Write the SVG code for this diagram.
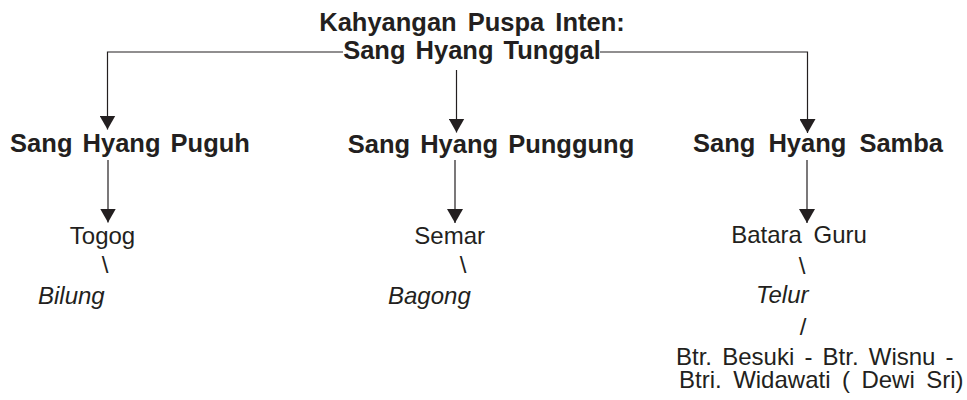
<svg xmlns="http://www.w3.org/2000/svg" width="967" height="400" viewBox="0 0 967 400">
<style>
  text { font-family: "Liberation Sans", Arial, sans-serif; font-size: 24px; fill: #231f20; }
  .b { font-weight: bold; font-size: 25.5px; word-spacing: 3px; }
  .r { word-spacing: 5px; }
  .i { font-style: italic; }
  .c { text-anchor: middle; }
  .ln { fill: none; stroke: #231f20; stroke-width: 1.2; }
</style>
<defs>
  <marker id="ah" markerUnits="userSpaceOnUse" viewBox="0 0 14 16" markerWidth="14" markerHeight="16" refX="14" refY="8" orient="auto">
    <path d="M0,0 L14,8 L0,16 z" fill="#231f20"/>
  </marker>
</defs>
<g id="connectors">
  <polyline class="ln" points="343,52 107.5,52 107.5,129.5" marker-end="url(#ah)"/>
  <polyline class="ln" points="600,52 807.5,52 807.5,133" marker-end="url(#ah)"/>
  <line class="ln" x1="456.5" y1="70" x2="456.5" y2="132.5" marker-end="url(#ah)"/>
  <line class="ln" x1="108" y1="160" x2="108" y2="222.5" marker-end="url(#ah)"/>
  <line class="ln" x1="455" y1="160" x2="455" y2="223" marker-end="url(#ah)"/>
  <line class="ln" x1="807" y1="160" x2="807" y2="223" marker-end="url(#ah)"/>
</g>
<g id="root">
  <text class="b c" x="472" y="31" style="word-spacing:4px">Kahyangan Puspa Inten:</text>
  <text class="b c" x="472" y="59">Sang Hyang Tunggal</text>
</g>
<g id="puguh"><text class="b c" x="130" y="152">Sang Hyang Puguh</text></g>
<g id="punggung"><text class="b c" x="491" y="153">Sang Hyang Punggung</text></g>
<g id="samba"><text class="b c" x="818" y="152" style="word-spacing:6px">Sang Hyang Samba</text></g>
<g id="togog">
  <text class="c" x="102.5" y="244">Togog</text>
  <text class="c" x="105" y="273">\</text>
  <text class="i" x="38" y="304">Bilung</text>
</g>
<g id="semar">
  <text class="c" x="449.7" y="244">Semar</text>
  <text class="c" x="463" y="273">\</text>
  <text class="i" x="388" y="304">Bagong</text>
</g>
<g id="batara">
  <text class="r c" x="799" y="243">Batara Guru</text>
  <text class="c" x="802" y="274">\</text>
  <text class="i" x="756" y="303">Telur</text>
  <text class="c" x="803" y="335">/</text>
  <text x="676" y="365" style="word-spacing:3.5px">Btr. Besuki - Btr. Wisnu -</text>
  <text x="679" y="388" style="word-spacing:4.8px">Btri. Widawati ( Dewi Sri)</text>
</g>
</svg>
